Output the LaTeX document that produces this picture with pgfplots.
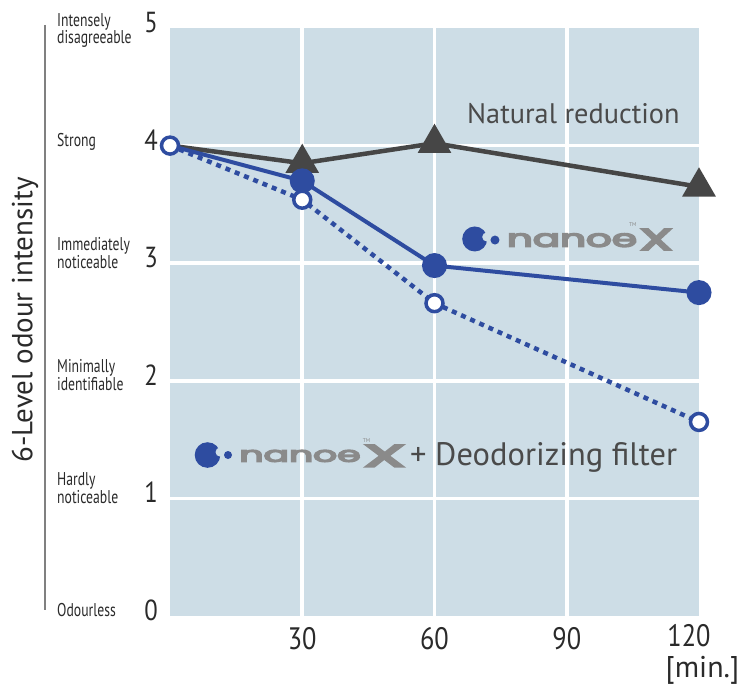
\documentclass[border=0pt]{standalone}
\usepackage{fontspec}
\usepackage{graphicx}
\setmainfont{PT Sans}
\newfontfamily\numfont[FakeStretch=0.85]{PT Sans}
\newfontfamily\condfont[FakeStretch=0.74]{PT Sans}
\newfontfamily\logofont[FakeBold=6]{Poppins}
\usepackage{pgfplots}
\pgfplotsset{compat=1.18}
\definecolor{bgc}{HTML}{CDDDE6}
\definecolor{nblue}{HTML}{2E4CA0}
\definecolor{dgray}{HTML}{464646}
\definecolor{lgray}{HTML}{8A8A8A}
\definecolor{tgray}{HTML}{4A4A4A}
\definecolor{kgray}{HTML}{2A2A2A}
\newcommand{\logoword}[2]{\resizebox{#1}{#2}{\logofont\fontsize{24}{24}\selectfont nanoe}}
\newcommand{\logoX}[2]{\resizebox{#1}{#2}{\logofont\fontsize{24}{24}\selectfont X}}
\begin{document}
\begin{tikzpicture}
\useasboundingbox (-170pt,-73pt) rectangle (583pt,616pt);
\begin{axis}[
  at={(0,0)}, anchor=south west,
  scale only axis, width=529pt, height=588pt,
  xmin=0, xmax=120, ymin=0, ymax=5, clip=false,
  axis background/.style={fill=bgc},
  axis line style={draw=none},
  tick style={draw=none},
  grid=major,
  major grid style={white, line width=3.5pt},
  xtick={30,60,90}, xticklabels={30,60,90},
  extra x ticks={120}, extra x tick labels={120},
  extra x tick style={grid=none, xticklabel style={xshift=-10pt, yshift=2.5pt}},
  ytick={1,2,3,4}, yticklabels={1,2,3,4},
  extra y ticks={0,5}, extra y tick labels={0,5},
  extra y tick style={grid=none},
  xticklabel style={font=\numfont\fontsize{31}{31}\selectfont, text=kgray, anchor=base, inner sep=0pt, yshift=-33pt},
  yticklabel style={font=\numfont\fontsize{29}{29}\selectfont, text=kgray, anchor=base east, inner sep=0pt, xshift=-12pt, yshift=-4.5pt},
]
% Natural reduction
\addplot[dgray, line width=4.5pt, mark=triangle*, mark size=15pt, mark indices={2,3,4},
  mark options={fill=dgray, draw=none}] coordinates {(0,4) (30,3.85) (60,4.02) (120,3.65)};
% nanoeX
\addplot[nblue, line width=4pt, mark=*, mark size=10.5pt, mark indices={2,3,4},
  mark options={fill=nblue, draw=none}] coordinates {(0,4) (30,3.70) (60,2.98) (120,2.75)};
% nanoeX + deodorizing filter
\addplot[nblue, line width=4.5pt, dash pattern=on 5pt off 5pt, mark=*, mark size=8.5pt,
  mark options={solid, fill=white, draw=nblue, line width=3.5pt}] coordinates {(0,4) (30,3.54) (60,2.66) (120,1.65)};

% annotations
\node[anchor=base west, inner sep=0pt, text=tgray, font=\fontsize{28.3}{28.3}\selectfont] at (axis cs:67.37,4.192) {Natural reduction};

% logo 1
\fill[nblue] (axis cs:69.12,3.206) circle[radius=12.5pt];
\fill[bgc] (axis cs:71.85,3.223) circle[radius=4.5pt];
\fill[nblue] (axis cs:73.72,3.197) circle[radius=4.5pt];
\node[anchor=base west, inner sep=0pt, text=lgray] at (axis cs:76.38,3.140) {\logoword{130pt}{13.3pt}};
\node[anchor=base west, inner sep=0pt, text=lgray] at (axis cs:106.5,3.112) {\logoX{33pt}{21pt}};
\node[inner sep=0pt, text=lgray, font=\fontsize{5.5}{5.5}\selectfont] at (axis cs:105.0,3.325) {TM};

% logo 2
\fill[nblue] (axis cs:8.51,1.369) circle[radius=12.8pt];
\fill[bgc] (axis cs:11.35,1.394) circle[radius=4.5pt];
\fill[nblue] (axis cs:13.16,1.369) circle[radius=4pt];
\node[anchor=base west, inner sep=0pt, text=lgray] at (axis cs:15.72,1.312) {\logoword{121pt}{11.7pt}};
\node[anchor=base west, inner sep=0pt, text=lgray] at (axis cs:43.85,1.270) {\logoX{42pt}{21.7pt}};
\node[inner sep=0pt, text=lgray, font=\fontsize{5.5}{5.5}\selectfont] at (axis cs:44.6,1.488) {TM};
\node[anchor=base west, inner sep=0pt, text=tgray, font=\fontsize{32.5}{32.5}\selectfont] at (axis cs:54.44,1.284) {+ Deodorizing filter};

% x unit
\node[anchor=base, inner sep=0pt, text=kgray, font=\fontsize{30}{30}\selectfont] at (axis cs:120.79,-0.527) {[min.]};

% left side descriptions
\draw[gray, line width=1.3pt] (axis cs:-28.36,5.026) -- (axis cs:-28.36,0.051);
\node[rotate=90, inner sep=0pt, text=kgray, font=\fontsize{29}{29}\selectfont] at (axis cs:-32.89,2.517) {6-Level odour intensity};
\begin{scope}[every node/.style={anchor=base west, inner sep=0pt, text=kgray, font=\condfont\fontsize{18.5}{18.5}\selectfont}]
\node at (axis cs:-25.63,5.015) {Intensely};
\node at (axis cs:-25.63,4.866) {disagreeable};
\node at (axis cs:-25.63,3.991) {Strong};
\node at (axis cs:-25.63,3.105) {Immediately};
\node at (axis cs:-25.63,2.955) {noticeable};
\node at (axis cs:-25.63,2.068) {Minimally};
\node at (axis cs:-25.63,1.918) {identifiable};
\node at (axis cs:-25.63,1.107) {Hardly};
\node at (axis cs:-25.63,0.957) {noticeable};
\node at (axis cs:-25.63,-0.006) {Odourless};
\end{scope}
\end{axis}
\end{tikzpicture}
\end{document}
